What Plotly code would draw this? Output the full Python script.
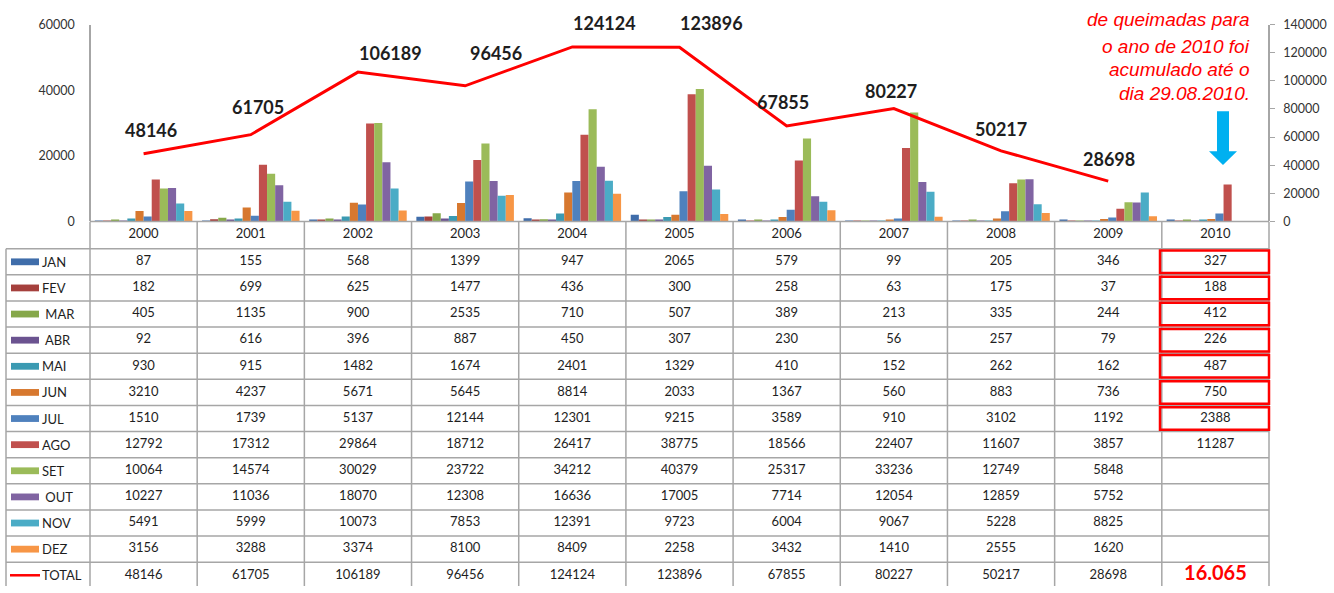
import plotly.graph_objects as go

# ---------------- data ----------------
years = ['2000', '2001', '2002', '2003', '2004', '2005', '2006', '2007', '2008', '2009', '2010']
months = ['JAN', 'FEV', 'MAR', 'ABR', 'MAI', 'JUN', 'JUL', 'AGO', 'SET', 'OUT', 'NOV', 'DEZ']
month_labels = ['JAN', 'FEV', '\u00a0MAR', '\u00a0ABR', 'MAI', 'JUN', 'JUL', 'AGO', 'SET', '\u00a0OUT', 'NOV', 'DEZ']
total_label = 'TOTAL'

jan = [87, 155, 568, 1399, 947, 2065, 579, 99, 205, 346, 327]
fev = [182, 699, 625, 1477, 436, 300, 258, 63, 175, 37, 188]
mar = [405, 1135, 900, 2535, 710, 507, 389, 213, 335, 244, 412]
abr = [92, 616, 396, 887, 450, 307, 230, 56, 257, 79, 226]
mai = [930, 915, 1482, 1674, 2401, 1329, 410, 152, 262, 162, 487]
jun = [3210, 4237, 5671, 5645, 8814, 2033, 1367, 560, 883, 736, 750]
jul = [1510, 1739, 5137, 12144, 12301, 9215, 3589, 910, 3102, 1192, 2388]
ago = [12792, 17312, 29864, 18712, 26417, 38775, 18566, 22407, 11607, 3857, 11287]
set_ = [10064, 14574, 30029, 23722, 34212, 40379, 25317, 33236, 12749, 5848, None]
out = [10227, 11036, 18070, 12308, 16636, 17005, 7714, 12054, 12859, 5752, None]
nov = [5491, 5999, 10073, 7853, 12391, 9723, 6004, 9067, 5228, 8825, None]
dez = [3156, 3288, 3374, 8100, 8409, 2258, 3432, 1410, 2555, 1620, None]
total = [48146, 61705, 106189, 96456, 124124, 123896, 67855, 80227, 50217, 28698]

highlight_year = '2010'
highlight_months = ['JAN', 'FEV', 'MAR', 'ABR', 'MAI', 'JUN', 'JUL']

note_lines = ['de queimadas para', 'o ano de 2010 foi', 'acumulado até o', 'dia 29.08.2010.']

left_ticks = [0, 20000, 40000, 60000]
right_ticks = [0, 20000, 40000, 60000, 80000, 100000, 120000, 140000]

series = [jan, fev, mar, abr, mai, jun, jul, ago, set_, out, nov, dez]

# ---------------- styles ----------------
colors = ['#3F6DAA', '#A5403D', '#86A84A', '#6B5390', '#3B9AB2', '#D7782F',
          '#4F81BD', '#C0504D', '#9BBB59', '#8064A2', '#4BACC6', '#F79646']
FONT = 'Lato'
NOTE_FONT = 'Liberation Sans'
TXT = '#1e1e1e'
GRID = '#A6A6A6'
# label offsets (px) for the total data labels, as placed in the original
LABEL_DX = [7, 7, 33, 31, 32, 32, -4, -3, 0, 1]
LABEL_DY = [24, 28, 19, 33, 24, 24, 24, 18, 22, 22]

W, H = 1334, 593
AX_L, AX_R = 90, 1269          # plot-area left / right (px)
PLOT_TOP, AX_Y = 17, 219        # plot-area top / baseline (px)
HEAD_H, ROW_H = 28, 26.8        # table header / row heights (px)
TAB_LEFT = 6

ncol = len(years)
CW = (AX_R - AX_L) / ncol


def xu(px):
    return -0.5 + (px - AX_L) / CW


def yu(py):
    return (py - (AX_Y + HEAD_H)) / ROW_H


xs = list(range(ncol))
fig = go.Figure()

# bars
for m, vals, c in zip(months, series, colors):
    fig.add_trace(go.Bar(x=xs, y=vals, name=m, marker=dict(color=c, line=dict(width=0)),
                         xaxis='x', yaxis='y', showlegend=False, hoverinfo='skip'))

# total line
fig.add_trace(go.Scatter(x=xs[:len(total)], y=total, mode='lines', line=dict(color='#FF0000', width=3),
                         xaxis='x', yaxis='y2', showlegend=False, hoverinfo='skip'))

annotations = []
for i, t in enumerate(total):
    annotations.append(dict(x=i, y=t, xref='x', yref='y2', text=f'<b>{t}</b>', showarrow=False,
                            xshift=LABEL_DX[i], yshift=LABEL_DY[i],
                            font=dict(family=FONT, size=18, color=TXT)))

# ---------------- table ----------------
cell_font = dict(family=FONT, size=13, color=TXT)
head_c = -HEAD_H / ROW_H / 2
fig.add_trace(go.Scatter(x=xs, y=[head_c] * ncol, text=years, mode='text', textfont=cell_font,
                         xaxis='x', yaxis='y3', showlegend=False, hoverinfo='skip'))
for r, vals in enumerate(series):
    fig.add_trace(go.Scatter(x=xs, y=[r + 0.5] * ncol, text=['' if v is None else str(v) for v in vals],
                             mode='text', textfont=cell_font, xaxis='x', yaxis='y3',
                             showlegend=False, hoverinfo='skip'))
r_tot = len(months)
fig.add_trace(go.Scatter(x=xs[:len(total)], y=[r_tot + 0.5] * len(total), text=[str(t) for t in total],
                         mode='text', textfont=cell_font, xaxis='x', yaxis='y3',
                         showlegend=False, hoverinfo='skip'))
hi = years.index(highlight_year)
sum_hi = sum(v[hi] for v in series if v[hi] is not None)
fig.add_trace(go.Scatter(x=[hi], y=[r_tot + 0.5], text=[f'<b>{sum_hi:,}</b>'.replace(',', '.')], mode='text',
                         textfont=dict(family=FONT, size=20, color='#FF0000'),
                         xaxis='x', yaxis='y3', showlegend=False, hoverinfo='skip'))

shapes = []
n_rows = len(months) + 1
y_head_top = yu(AX_Y)
# vertical grid lines
for j in range(ncol + 1):
    shapes.append(dict(type='line', xref='x', yref='y3', x0=j - 0.5, x1=j - 0.5,
                       y0=y_head_top, y1=n_rows + 0.5, line=dict(color=GRID, width=1.5)))
shapes.append(dict(type='line', xref='x', yref='y3', x0=xu(TAB_LEFT), x1=xu(TAB_LEFT),
                   y0=0, y1=n_rows + 0.5, line=dict(color=GRID, width=1.5)))
# horizontal grid lines
for r in range(n_rows):
    shapes.append(dict(type='line', xref='x', yref='y3', x0=xu(TAB_LEFT), x1=ncol - 0.5,
                       y0=r, y1=r, line=dict(color=GRID, width=1.5)))
# baseline of chart
shapes.append(dict(type='line', xref='x', yref='paper', x0=-0.5, x1=ncol - 0.5,
                   y0=1 - AX_Y / H, y1=1 - AX_Y / H, line=dict(color=GRID, width=1.5)))

# legend keys + labels in first column
for r, (lab, c) in enumerate(zip(month_labels, colors)):
    r_c = r + 0.5
    shapes.append(dict(type='rect', xref='x', yref='y3', x0=xu(11), x1=xu(39),
                       y0=r_c - 0.13, y1=r_c + 0.13, fillcolor=c, line=dict(width=0)))
    annotations.append(dict(x=xu(40), y=r_c, xref='x', yref='y3', text=lab, showarrow=False,
                            xanchor='left', yanchor='middle', font=cell_font))
shapes.append(dict(type='line', xref='x', yref='y3', x0=xu(10), x1=xu(40),
                   y0=r_tot + 0.5, y1=r_tot + 0.5, line=dict(color='#FF0000', width=2.5)))
annotations.append(dict(x=xu(40), y=r_tot + 0.5, xref='x', yref='y3', text=total_label,
                        showarrow=False, xanchor='left', yanchor='middle', font=cell_font))

# red highlight boxes
for m in highlight_months:
    r = months.index(m)
    shapes.append(dict(type='rect', xref='x', yref='y3', x0=xu(1160), x1=hi + 0.5,
                       y0=r + 0.07, y1=r + 0.93, line=dict(color='#FF0000', width=2.5)))

# note text
for line_txt, py in zip(note_lines, [12, 39, 63, 88]):
    annotations.append(dict(x=1252 / W, y=1 - py / H, xref='paper', yref='paper', text=f'<i>{line_txt}</i>',
                            showarrow=False, xanchor='right', yanchor='middle',
                            font=dict(family=NOTE_FONT, size=19, color='#FF0000', style='italic')))


# blue arrow
def P(px, py):
    return f'{px / W:.5f},{1 - py / H:.5f}'


arrow = (f'M {P(1217,106)} L {P(1229,106)} L {P(1229,147)} L {P(1237,147)} L {P(1223,161)} '
         f'L {P(1209,147)} L {P(1217,147)} Z')
shapes.append(dict(type='path', xref='paper', yref='paper', path=arrow,
                   fillcolor='#00B0F0', line=dict(width=0)))

tick_font = dict(family=FONT, size=12.5, color='#333333')
fig.update_layout(
    width=W, height=H, autosize=False,
    margin=dict(l=0, r=0, t=0, b=0),
    paper_bgcolor='white', plot_bgcolor='rgba(0,0,0,0)',
    barmode='group', bargap=0.09, bargroupgap=0,
    xaxis=dict(domain=[0, 1], range=[xu(0), xu(W)], visible=False, fixedrange=True),
    yaxis=dict(domain=[1 - AX_Y / H, 1 - PLOT_TOP / H], range=[0, 60000], anchor='free',
               position=AX_L / W, showline=True, linecolor=GRID, linewidth=1.5,
               showgrid=False, zeroline=False, ticks='', tickvals=left_ticks,
               ticktext=[str(v) for v in left_ticks], tickfont=tick_font,
               ticklabelstandoff=12, fixedrange=True),
    yaxis2=dict(overlaying='y', side='right', range=[0, 140000], anchor='free',
                position=AX_R / W, showline=True, linecolor=GRID, linewidth=1.5,
                showgrid=False, zeroline=False, ticks='outside', ticklen=5, tickcolor=GRID,
                tickvals=right_ticks, ticktext=[str(v) for v in right_ticks],
                tickfont=tick_font, ticklabelstandoff=6, fixedrange=True),
    yaxis3=dict(domain=[0, 1 - AX_Y / H], range=[yu(H), yu(AX_Y)], visible=False, fixedrange=True),
    shapes=shapes, annotations=annotations, showlegend=False,
)

fig.write_html('out.html', config={'displayModeBar': False},
               post_script="document.body.style.margin='0';document.body.style.overflow='hidden';")
